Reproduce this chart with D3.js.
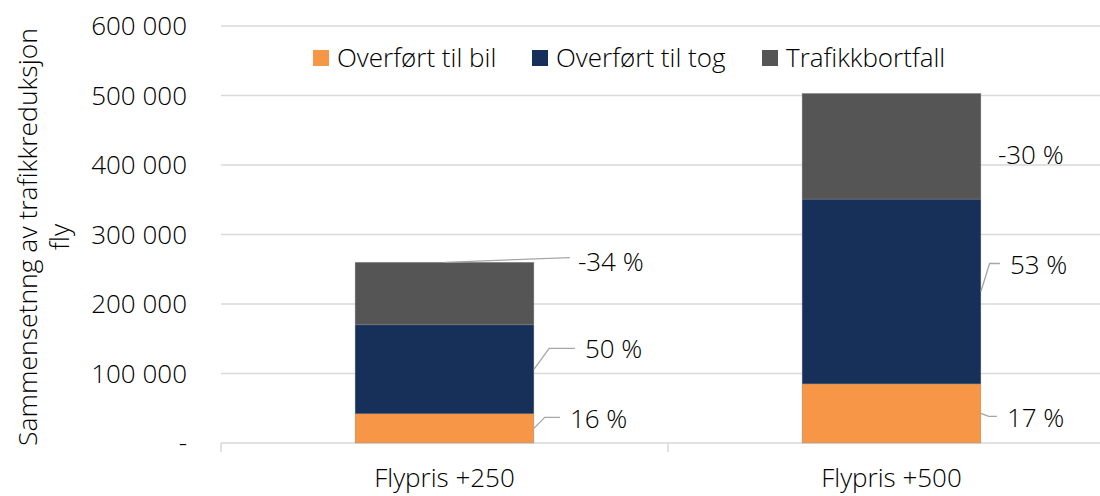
<!DOCTYPE html>
<html>
<head>
<meta charset="utf-8">
<script src="https://cdn.jsdelivr.net/npm/d3@7"></script>
<style>
  body { margin: 0; background: #fff; }
  svg text { font-family: "Open Sans", sans-serif; font-weight: 300; fill: #000; }
</style>
</head>
<body>
<svg id="chart" width="1100" height="496"></svg>
<script>
const categories = ['Flypris +250', 'Flypris +500'];
const seriesNames = ['Overført til bil', 'Overført til tog', 'Trafikkbortfall'];
const bilValues = [42000, 85000];
const togValues = [128000, 266000];
const bortfallValues = [90000, 152000];
const labelTexts = [['16 %', '50 %', '-34 %'], ['17 %', '53 %', '-30 %']];
const yTicks = [0, 100000, 200000, 300000, 400000, 500000, 600000];
const colors = ['#F79646', '#17305A', '#555555'];

// where each data label sits, relative to its segment (dx from bar right edge, dy from segment middle)
const labelLayout = [
  [{ dx: 36, dy: -10, leader: 'side' }, { dx: 51, dy: -20, leader: 'side' }, { dx: 44, dy: -32, leader: 'top' }],
  [{ dx: 26, dy: 4, leader: 'side' }, { dx: 29, dy: -27, leader: 'side' }, { dx: 17, dy: 9, leader: 'none' }]
];

const svg = d3.select('#chart');
const plotLeft = 221, plotRight = 1115, plotTop = 26, plotBottom = 443;

const x = d3.scaleBand().domain(categories).range([plotLeft, plotRight]).padding(0);
const y = d3.scaleLinear().domain([0, 600000]).range([plotBottom, plotTop]);
const barW = x.bandwidth() * 0.4;

const fmt = v => v === 0 ? '-' : d3.format(',')(v).replace(/,/g, ' ');

// gridlines
svg.append('g').selectAll('line').data(yTicks.filter(d => d > 0)).join('line')
  .attr('x1', plotLeft).attr('x2', 1100)
  .attr('y1', d => y(d)).attr('y2', d => y(d))
  .attr('stroke', '#d9d9d9').attr('stroke-width', 1.3);

// y tick labels
svg.append('g').selectAll('text').data(yTicks).join('text')
  .attr('x', 187).attr('y', d => y(d))
  .attr('dy', '0.35em')
  .attr('text-anchor', 'end')
  .style('font-size', '26px')
  .text(fmt);

// x axis
svg.append('line').attr('x1', plotLeft).attr('x2', 1100).attr('y1', plotBottom).attr('y2', plotBottom)
  .attr('stroke', '#d9d9d9').attr('stroke-width', 1.5);
svg.append('g').selectAll('line').data([plotLeft, plotLeft + x.bandwidth(), plotRight]).join('line')
  .attr('x1', d => d).attr('x2', d => d).attr('y1', plotBottom).attr('y2', plotBottom + 9)
  .attr('stroke', '#d9d9d9').attr('stroke-width', 1.5);
svg.append('g').selectAll('text').data(categories).join('text')
  .attr('x', d => x(d) + x.bandwidth() / 2).attr('y', 478)
  .attr('dy', '0.35em').attr('text-anchor', 'middle')
  .style('font-size', '26px')
  .text(d => d);

// stacked bars
const rows = categories.map((c, i) => ({ cat: c, bil: bilValues[i], tog: togValues[i], bortfall: bortfallValues[i] }));
const stack = d3.stack().keys(['bil', 'tog', 'bortfall'])(rows);

stack.forEach((layer, si) => {
  svg.append('g').selectAll('rect').data(layer).join('rect')
    .attr('x', d => x(d.data.cat) + (x.bandwidth() - barW) / 2)
    .attr('width', barW)
    .attr('y', d => y(d[1]))
    .attr('height', d => y(d[0]) - y(d[1]))
    .attr('fill', colors[si])
    .attr('stroke', '#8a8a8a').attr('stroke-width', 0.4);
});

// data labels with leader lines
const lbl = svg.append('g');
stack.forEach((layer, si) => {
  layer.forEach((d, ci) => {
    const L = labelLayout[ci][si];
    const bx0 = x(d.data.cat) + (x.bandwidth() - barW) / 2;
    const bx1 = bx0 + barW;
    const mid = (y(d[0]) + y(d[1])) / 2;
    const tx = bx1 + L.dx;
    const ty = mid + L.dy;
    if (L.leader === 'side') {
      lbl.append('polyline')
        .attr('points', [[bx1, mid], [bx1 + Math.min(L.dx * 0.3, 29), ty - 1], [tx - 10, ty - 1]].map(p => p.join(',')).join(' '))
        .attr('fill', 'none').attr('stroke', '#a6a6a6').attr('stroke-width', 1.3);
    } else if (L.leader === 'top') {
      lbl.append('line')
        .attr('x1', bx0 + barW / 2).attr('y1', y(d[1]))
        .attr('x2', tx - 8).attr('y2', ty - 4)
        .attr('stroke', '#a6a6a6').attr('stroke-width', 1.3);
    }
    lbl.append('text')
      .attr('x', tx).attr('y', ty)
      .attr('dy', '0.35em')
      .style('font-size', '26px')
      .text(labelTexts[ci][si]);
  });
});

// legend
const legendX = [313, 532, 762];
const legend = svg.append('g').selectAll('g').data(seriesNames).join('g')
  .attr('transform', (d, i) => `translate(${legendX[i]},58)`);
legend.append('rect').attr('x', 0).attr('y', -8).attr('width', 16).attr('height', 16)
  .attr('fill', (d, i) => colors[i]);
legend.append('text').attr('x', 24).attr('dy', '0.35em')
  .style('font-size', '26px')
  .text(d => d);

// y axis title
svg.append('text')
  .attr('transform', 'translate(28,237) rotate(-90)')
  .attr('dy', '0.35em')
  .attr('text-anchor', 'middle')
  .style('font-size', '26.5px')
  .text('Sammensetnng av trafikkreduksjon');
svg.append('text')
  .attr('transform', 'translate(60,237) rotate(-90)')
  .attr('dy', '0.35em')
  .attr('text-anchor', 'middle')
  .style('font-size', '26.5px')
  .text('fly');
</script>
</body>
</html>
